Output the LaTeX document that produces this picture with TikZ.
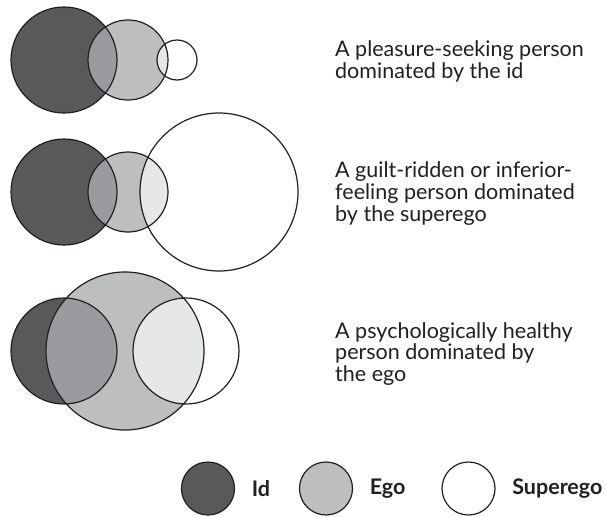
\documentclass[tikz,border=0pt]{standalone}
\usepackage{fontspec}
\setmainfont{Lato}
\usetikzlibrary{positioning}
\definecolor{idgray}{HTML}{58595B}
\definecolor{egogray}{HTML}{BCBEC0}
\definecolor{overlapgray}{HTML}{9A9B9E}
\definecolor{supergray}{HTML}{E6E7E8}
\definecolor{outline}{HTML}{231F20}

\begin{document}
\begin{tikzpicture}[x=1pt, y=-1pt,
  ring/.style={draw=outline, line width=1.2pt},
  caption/.style={anchor=base west, align=left, inner sep=0pt, text=outline,
    font=\fontsize{21.5}{21.7}\selectfont},
  keylabel/.style={inner sep=0pt, text=outline, font=\fontsize{21.5}{22}\selectfont\bfseries}]
  \useasboundingbox (0,0) rectangle (606,517);

  % Rows: y / id x,r / ego x,r / superego x,r
  \foreach \y/\ix/\ir/\ex/\er/\sx/\sr in {60/64/53/128/40/177/20, 192/64/53/128/40/219/79, 351/64/53/125/79/186/53} {
    \fill[idgray] (\ix,\y) circle (\ir pt);
    \fill[egogray] (\ex,\y) circle (\er pt);
    \begin{scope}
      \clip (\ex,\y) circle (\er pt);
      \fill[overlapgray] (\ix,\y) circle (\ir pt);
      \fill[supergray] (\sx,\y) circle (\sr pt);
    \end{scope}
    \draw[ring] (\ix,\y) circle (\ir pt) (\ex,\y) circle (\er pt) (\sx,\y) circle (\sr pt);
  }

  % Captions (placed at the baseline of their last line)
  \node[caption] (pleasure) at (335,78.5) {A pleasure-seeking person\\dominated by the id};
  \node[caption] (guilt) at (335,221) {A guilt-ridden or inferior-\\feeling person dominated\\by the superego};
  \node[caption] (healthy) at (335,381.5) {A psychologically healthy\\person dominated by\\the ego};

  % Legend
  \foreach \cx/\col/\lab/\nm in {208/idgray/Id/id, 326/egogray/Ego/ego, 468.5/white/Superego/superego} {
    \node[ring, circle, fill=\col, minimum size=53pt, inner sep=0pt] (\nm key) at (\cx,488.5) {};
    \node[keylabel, right=16.5pt of \nm key.east, anchor=west] (\nm label) {\lab};
  }
\end{tikzpicture}
\end{document}
